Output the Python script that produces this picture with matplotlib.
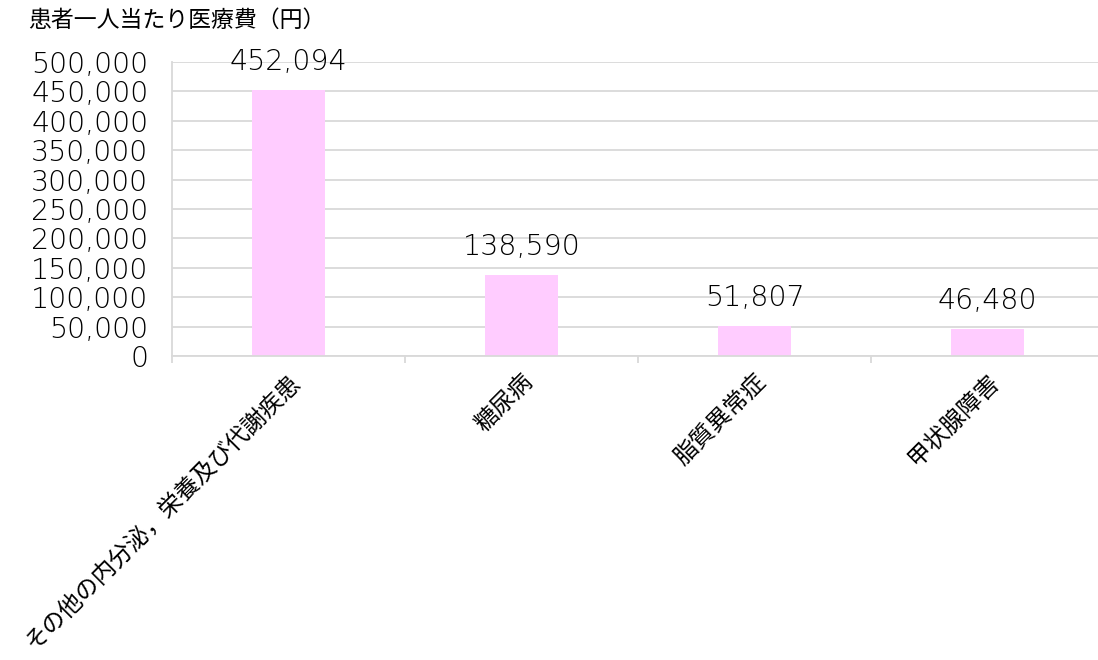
import matplotlib.pyplot as plt
from matplotlib.ticker import FuncFormatter, FixedLocator

plt.rcParams['font.family'] = ['Noto Sans CJK JP', 'DejaVu Sans']

categories = ['その他の内分泌，栄養及び代謝疾患', '糖尿病', '脂質異常症', '甲状腺障害']
values = [452094, 138590, 51807, 46480]
yticks = [0, 50000, 100000, 150000, 200000, 250000, 300000, 350000, 400000, 450000, 500000]

numfont = dict(family='DejaVu Sans', weight=200, size=20.5)

fig = plt.figure(figsize=(10.98, 6.6), dpi=100)
ax = fig.add_axes([172/1098, 1-356/660, 932/1098, 294/660])

x = list(range(len(categories)))
ax.bar(x, values, width=0.31, color='#FFCCFF', zorder=2)

for xi, v in zip(x, values):
    ax.annotate(f'{v:,}', (xi, v), xytext=(0, 20), textcoords='offset points',
                ha='center', va='center', color='#000000', **numfont)

ax.set_xlim(-0.5, len(categories) - 0.5)
ax.set_ylim(0, 500000)
ax.set_yticks(yticks)
ax.yaxis.set_major_formatter(FuncFormatter(lambda v, p: f'{int(v):,}'))
ax.tick_params(axis='y', length=0, pad=17)
for t in ax.get_yticklabels():
    t.set_fontfamily('DejaVu Sans')
    t.set_fontweight(200)
    t.set_fontsize(20.5)
ax.grid(axis='y', color='#D9D9D9', linewidth=1.3, zorder=0)

ax.set_xticks(x)
ax.set_xticklabels(categories, rotation=45, ha='right', rotation_mode='anchor', fontsize=17)
ax.tick_params(axis='x', which='major', length=0, pad=10)
ax.xaxis.set_minor_locator(FixedLocator([i - 0.5 for i in range(len(categories) + 1)]))
ax.tick_params(axis='x', which='minor', length=5, width=1.3, color='#D9D9D9')

for s in ['top', 'right']:
    ax.spines[s].set_visible(False)
for s in ['left', 'bottom']:
    ax.spines[s].set_color('#D9D9D9')
    ax.spines[s].set_linewidth(1.3)

fig.text(28/1098, 1-20/660, '患者一人当たり医療費（円）', fontsize=16.5, va='center', ha='left')

fig.savefig('out.png', dpi=100)
